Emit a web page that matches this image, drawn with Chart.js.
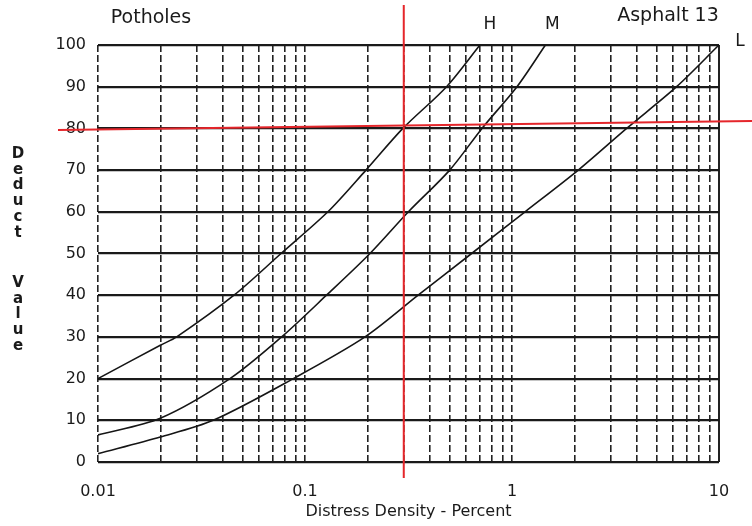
<!DOCTYPE html>
<html>
<head>
<meta charset="utf-8">
<script src="https://cdn.jsdelivr.net/npm/chart.js@4.4.0/dist/chart.umd.min.js"></script>
<style>
    html, body { margin: 0; padding: 0; background: #fff; }
    #wrap { width: 752px; height: 526px; }
</style>
</head>
<body>
<div id="wrap"><canvas id="deduct-chart" width="752" height="526"></canvas></div>
<script>
const xTicks = [0.01, 0.1, 1, 10]
const xTickLabels = ['0.01', '0.1', '1', '10']
const yTicks = [0, 10, 20, 30, 40, 50, 60, 70, 80, 90, 100]

// curves (density %, deduct value)
const highDensity = [0.01, 0.02, 0.024, 0.0454, 0.0766, 0.129, 0.197, 0.297, 0.483, 0.70]
const highDeduct = [20, 28, 30, 40, 50, 60, 70, 80, 90, 100]
const mediumDensity = [0.01, 0.02, 0.0434, 0.0771, 0.127, 0.206, 0.316, 0.50, 0.716, 1.057, 1.45]
const mediumDeduct = [6.5, 10.5, 20, 30, 40, 50, 60, 70, 80, 90, 100]
const lowDensity = [0.01, 0.02, 0.036, 0.0878, 0.195, 0.352, 0.638, 1.156, 2.09, 3.58, 6.24, 10]
const lowDeduct = [2, 6, 10, 20, 30, 40, 50, 60, 70, 80, 90, 100]
const severityLabels = ['H', 'M', 'L']

// red reading lines drawn on the scan
const readDensity = 0.3
const readDeduct = 80

const chartTitle = 'Potholes'
const chartCode = 'Asphalt 13'
const yTitleWords = ['Deduct', 'Value']
const xTitle = 'Distress Density - Percent'

function toPoints(xs, ys) {
    return xs.map((x, i) => ({ x: x, y: ys[i] }))
}

// minor log grid: 1..9 in every decade
let gridValues = []
for (let d = 0; d < xTicks.length - 1; d++) {
    for (let m = 1; m < 10; m++) gridValues.push(+(xTicks[d] * m).toPrecision(3))
}
gridValues.push(xTicks[xTicks.length - 1])

const annotations = {
    id: 'annotations',
    afterDraw(chart) {
        const { ctx, scales: { x, y } } = chart
        const lineMeta = [0, 1, 2].map(i => chart.getDatasetMeta(i).data)

        ctx.save()
        ctx.fillStyle = '#1a1a1a'
        ctx.textAlign = 'center'
        ctx.textBaseline = 'middle'

        ctx.font = '19px "DejaVu Sans"'
        ctx.fillText(chartTitle, 151, 18)
        ctx.fillText(chartCode, 668, 16)

        // severity letters near curve ends
        const offs = [[10, -20], [7, -20], [21, -3]]
        ctx.font = '17px "DejaVu Sans"'
        lineMeta.forEach((pts, i) => {
            const end = pts[pts.length - 1]
            ctx.fillText(severityLabels[i], end.x + offs[i][0], end.y + offs[i][1])
        })

        // stacked y title
        ctx.font = 'bold 15px "DejaVu Sans"'
        const starts = [154, 283]
        yTitleWords.forEach((w, wi) => {
            w.split('').forEach((ch, ci) => ctx.fillText(ch, 18, starts[wi] + ci * 15.8))
        })

        // red reading lines
        const px = x.getPixelForValue(readDensity)
        const py = y.getPixelForValue(readDeduct)
        ctx.strokeStyle = '#e5262b'
        ctx.lineWidth = 2
        ctx.beginPath()
        ctx.moveTo(px, 5)
        ctx.lineTo(px, 478)
        ctx.moveTo(58, py + 1.5)
        ctx.lineTo(752, py - 7.5)
        ctx.stroke()
        ctx.restore()
    }
}

const lineStyle = {
    showLine: true,
    borderColor: '#151515',
    borderWidth: 1.6,
    pointRadius: 0,
    tension: 0.3,
    fill: false
}

const ctx = document.getElementById('deduct-chart')
const myChart = new Chart(ctx, {
    type: 'scatter',
    data: {
        datasets: [
            { label: severityLabels[0], data: toPoints(highDensity, highDeduct), ...lineStyle },
            { label: severityLabels[1], data: toPoints(mediumDensity, mediumDeduct), ...lineStyle },
            { label: severityLabels[2], data: toPoints(lowDensity, lowDeduct), ...lineStyle }
        ]
    },
    options: {
        responsive: false,
        animation: false,
        devicePixelRatio: 1,
        layout: { padding: { top: 45, right: 33, left: 0, bottom: 0 } },
        plugins: { legend: { display: false }, tooltip: { enabled: false } },
        scales: {
            x: {
                type: 'logarithmic',
                min: xTicks[0],
                max: xTicks[xTicks.length - 1],
                afterBuildTicks: scale => { scale.ticks = gridValues.map(v => ({ value: v })) },
                afterFit: scale => { scale.height = 64 },
                ticks: {
                    autoSkip: false,
                    maxRotation: 0,
                    padding: 20,
                    color: '#1a1a1a',
                    font: { family: 'DejaVu Sans', size: 16 },
                    callback: function (value) {
                        const i = xTicks.findIndex(t => Math.abs(t - value) < t * 1e-6)
                        return i >= 0 ? xTickLabels[i] : ''
                    }
                },
                grid: {
                    color: '#222',
                    drawTicks: false,
                    lineWidth: c => (c.tick && c.tick.value === 10 ? 2 : 1.6)
                },
                border: {
                    display: false,
                    dash: c => (c.tick && c.tick.value === 10 ? [] : [7, 3])
                },
                title: {
                    display: true,
                    text: xTitle,
                    color: '#1a1a1a',
                    font: { family: 'DejaVu Sans', size: 16 },
                    padding: { top: 0, bottom: 5 }
                }
            },
            y: {
                type: 'linear',
                min: 0,
                max: 100,
                afterBuildTicks: scale => { scale.ticks = yTicks.map(v => ({ value: v })) },
                afterFit: scale => { scale.width = 98 },
                ticks: {
                    padding: 12,
                    color: '#1a1a1a',
                    font: { family: 'DejaVu Sans', size: 16 }
                },
                grid: { color: '#1a1a1a', lineWidth: 2.2, drawTicks: false },
                border: { display: false }
            }
        }
    },
    plugins: [annotations]
})
</script>
</body>
</html>
